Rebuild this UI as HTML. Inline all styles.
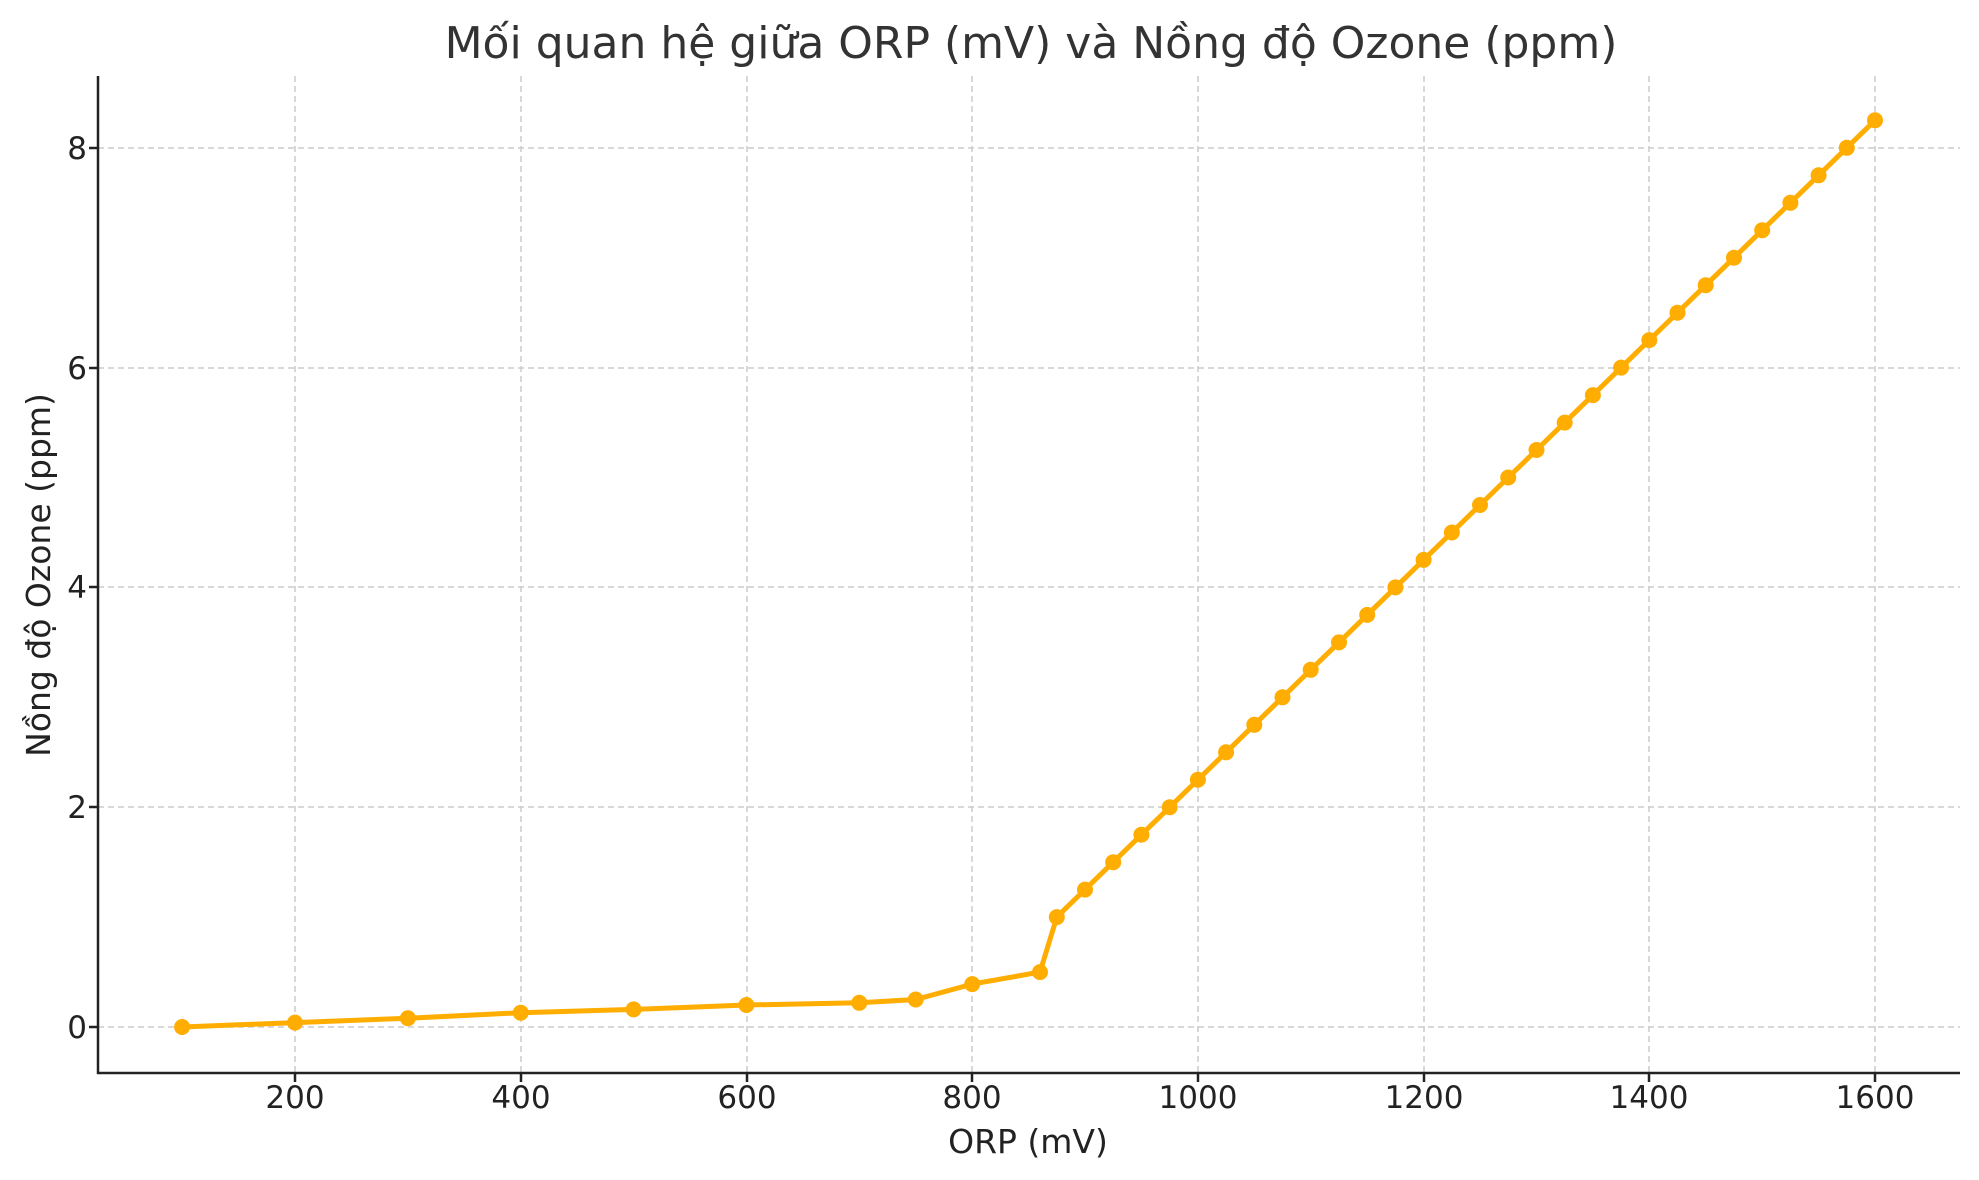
<!DOCTYPE html>
<html><head><meta charset="utf-8"><style>html,body{margin:0;padding:0;background:#fff}svg{display:block}</style></head>
<body>
<svg width="1979" height="1180" viewBox="0 0 1979 1180" xmlns="http://www.w3.org/2000/svg" font-family="DejaVu Sans, Liberation Sans, sans-serif">
<defs>
<marker id="m" markerUnits="userSpaceOnUse" markerWidth="20" markerHeight="20" refX="10" refY="10" viewBox="0 0 20 20"><circle cx="10" cy="10" r="8" fill="#ffad00"/></marker>
</defs>
<rect width="1979" height="1180" fill="#fff"/>
<g stroke="#cccccc" stroke-width="1.5" stroke-dasharray="6,4">
<line x1="295" y1="76" x2="295" y2="1073"/>
<line x1="521" y1="76" x2="521" y2="1073"/>
<line x1="747" y1="76" x2="747" y2="1073"/>
<line x1="972" y1="76" x2="972" y2="1073"/>
<line x1="1198" y1="76" x2="1198" y2="1073"/>
<line x1="1424" y1="76" x2="1424" y2="1073"/>
<line x1="1649" y1="76" x2="1649" y2="1073"/>
<line x1="1875" y1="76" x2="1875" y2="1073"/>
<line x1="98" y1="1027" x2="1960" y2="1027"/>
<line x1="98" y1="807" x2="1960" y2="807"/>
<line x1="98" y1="587" x2="1960" y2="587"/>
<line x1="98" y1="368" x2="1960" y2="368"/>
<line x1="98" y1="148" x2="1960" y2="148"/>
</g>
<g stroke="#222" stroke-width="2.5">
<line x1="98" y1="76" x2="98" y2="1074"/>
<line x1="97" y1="1073" x2="1960" y2="1073"/>
<line x1="89" y1="1027" x2="98" y2="1027"/><line x1="89" y1="807" x2="98" y2="807"/><line x1="89" y1="587" x2="98" y2="587"/><line x1="89" y1="368" x2="98" y2="368"/><line x1="89" y1="148" x2="98" y2="148"/>
<line x1="295" y1="1073" x2="295" y2="1082"/><line x1="521" y1="1073" x2="521" y2="1082"/><line x1="747" y1="1073" x2="747" y2="1082"/><line x1="972" y1="1073" x2="972" y2="1082"/><line x1="1198" y1="1073" x2="1198" y2="1082"/><line x1="1424" y1="1073" x2="1424" y2="1082"/><line x1="1649" y1="1073" x2="1649" y2="1082"/><line x1="1875" y1="1073" x2="1875" y2="1082"/>
</g>
<g fill="#222" font-size="31" text-anchor="middle">
<text x="295" y="1108">200</text><text x="521" y="1108">400</text><text x="747" y="1108">600</text><text x="972" y="1108">800</text><text x="1198" y="1108">1000</text><text x="1424" y="1108">1200</text><text x="1649" y="1108">1400</text><text x="1875" y="1108">1600</text>
</g>
<g fill="#222" font-size="31" text-anchor="end">
<text x="87" y="1038">0</text><text x="87" y="818">2</text><text x="87" y="598">4</text><text x="87" y="379">6</text><text x="87" y="159">8</text>
</g>
<text x="1028" y="1153" font-size="33" fill="#222" text-anchor="middle">ORP (mV)</text>
<text transform="translate(50,575) rotate(-90)" font-size="33" fill="#222" text-anchor="middle">Nồng độ Ozone (ppm)</text>
<text x="1031" y="58" font-size="44" fill="#333" text-anchor="middle">Mối quan hệ giữa ORP (mV) và Nồng độ Ozone (ppm)</text>
<polyline fill="none" stroke="#ffad00" stroke-width="5" stroke-linejoin="round" marker-start="url(#m)" marker-mid="url(#m)" marker-end="url(#m)" points="182.1,1027 295,1022.6 407.9,1018.2 520.7,1012.7 633.6,1009.4 746.4,1005 859.3,1002.8 915.7,999.5 972.2,984.1 1040,972.1 1056.8,917.1 1085,889.6 1113.2,862.2 1141.4,834.7 1169.7,807.2 1197.9,779.7 1226.1,752.3 1254.3,724.8 1282.5,697.3 1310.7,669.8 1339,642.4 1367.2,614.9 1395.4,587.4 1423.6,559.9 1451.8,532.5 1480,505 1508.2,477.5 1536.5,450 1564.7,422.6 1592.9,395.1 1621.1,367.6 1649.3,340.1 1677.5,312.7 1705.7,285.2 1734,257.7 1762.2,230.2 1790.4,202.8 1818.6,175.3 1846.8,147.8 1875,120.3"/>
</svg>
</body></html>
